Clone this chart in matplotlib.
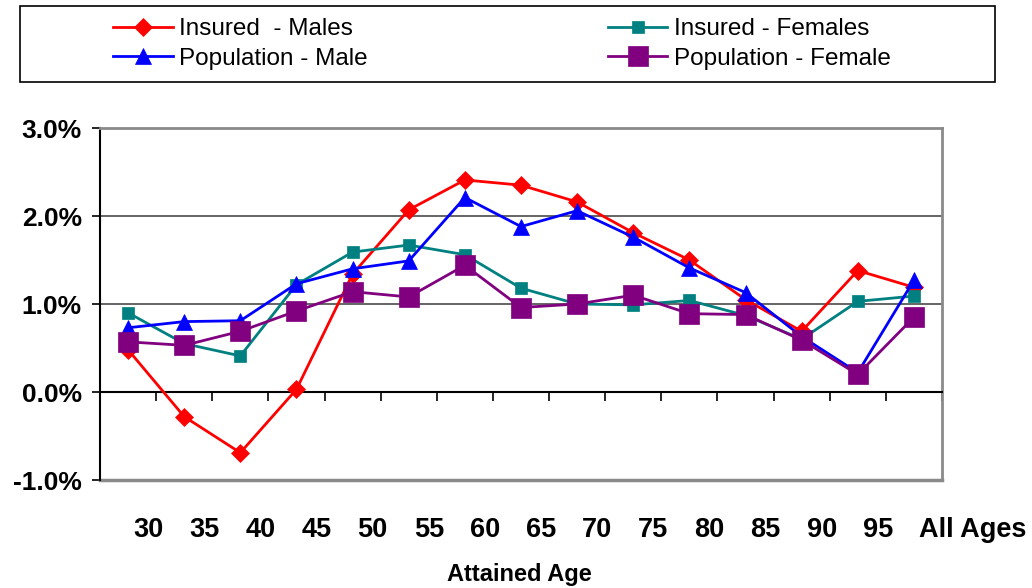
import matplotlib
matplotlib.use("Agg")
import matplotlib.pyplot as plt
from matplotlib.transforms import ScaledTranslation
from matplotlib.patches import Rectangle
from matplotlib.ticker import FixedLocator

plt.rcParams['font.family'] = ['Liberation Sans', 'DejaVu Sans']

ages = ['30', '35', '40', '45', '50', '55', '60', '65', '70', '75', '80', '85', '90', '95', 'All Ages']
insured_males = [0.48, -0.28, -0.69, 0.03, 1.34, 2.07, 2.41, 2.35, 2.16, 1.81, 1.50, 1.05, 0.69, 1.38, 1.19]
insured_females = [0.90, 0.55, 0.41, 1.22, 1.59, 1.67, 1.56, 1.18, 1.00, 0.99, 1.04, 0.87, 0.60, 1.03, 1.09]
population_male = [0.73, 0.80, 0.81, 1.23, 1.40, 1.49, 2.21, 1.88, 2.06, 1.76, 1.41, 1.13, 0.63, 0.22, 1.27]
population_female = [0.57, 0.53, 0.69, 0.92, 1.14, 1.08, 1.44, 0.96, 1.00, 1.10, 0.89, 0.88, 0.59, 0.20, 0.85]
y_ticks = [-1.0, 0.0, 1.0, 2.0, 3.0]

W, H = 1032, 588
fig = plt.figure(figsize=(W / 100, H / 100), dpi=100)
ax = fig.add_axes([100 / W, 1 - 480 / H, 842 / W, 352 / H])

x = list(range(len(ages)))
series = [
    (insured_males, 'Insured  - Males', '#FF0000', 'D', 9, 1),
    (insured_females, 'Insured - Females', '#008080', 's', 8.5, 2),
    (population_male, 'Population - Male', '#0000FF', '^', 11.5, 3),
    (population_female, 'Population - Female', '#800080', 's', 14.5, 4),
]
handles = []
for vals, lab, col, mk, ms, z in series:
    h, = ax.plot(x, vals, color=col, lw=2.0, marker=mk, markersize=ms,
                 markerfacecolor=col, markeredgecolor=col, markeredgewidth=0.5,
                 label=lab, zorder=3 + z, clip_on=False)
    handles.append(h)

ax.set_xlim(-0.5, len(ages) - 0.5)
ax.set_ylim(-1.0, 3.0)

# y axis
ax.set_yticks(y_ticks)
ax.set_yticklabels([f"{v:.1f}%" for v in y_ticks], fontsize=19, fontweight='bold')
ax.tick_params(axis='y', direction='out', length=6, width=1.2, pad=7, color='black')
ax.yaxis.grid(True, color='#4a4a4a', lw=1.2, zorder=1)
ax.set_axisbelow(True)

# x axis at zero with boundary ticks
ax.spines['bottom'].set_position(('data', 0))
ax.spines['bottom'].set_color('black')
ax.spines['bottom'].set_linewidth(1.5)
ax.spines['left'].set_color('black')
ax.spines['left'].set_linewidth(1.5)
for s in ['top', 'right']:
    ax.spines[s].set_color('#8a8a8a')
    ax.spines[s].set_linewidth(2)
ax.axhline(-1.0, color='#8a8a8a', lw=2.5, zorder=2, clip_on=False)

ax.xaxis.set_major_locator(FixedLocator([i - 0.5 for i in range(len(ages) + 1)]))
ax.xaxis.set_major_formatter(plt.NullFormatter())
ax.tick_params(axis='x', which='major', direction='out', length=6.5, width=1.2, color='black')
ax.set_xticks(x, ages, minor=True)
ax.tick_params(axis='x', which='minor', length=0, pad=90)
off = ScaledTranslation(5 / 100, 0, fig.dpi_scale_trans)
for lbl in ax.get_xticklabels(minor=True):
    lbl.set_fontsize(19.5)
    lbl.set_fontweight('bold')
    lbl.set_ha('left')
    lbl.set_transform(lbl.get_transform() + off)

fig.text(519 / W, 1 - 581.5 / H, 'Attained Age', ha='center', va='baseline',
         fontsize=17, fontweight='bold')

# legend (row 1: insured, row 2: population)
fig.patches.append(Rectangle((20 / W, 1 - 82 / H), 975 / W, 76 / H,
                             transform=fig.transFigure, fill=False,
                             edgecolor='black', lw=1.2))
leg_handles = [handles[0], handles[2], handles[1], handles[3]]
fig.legend(handles=leg_handles, loc='upper left', bbox_to_anchor=(113 / W, 1 - 18 / H),
           ncol=2, frameon=False, fontsize=17.5, handlelength=2.45,
           handletextpad=0.25, columnspacing=9.9, labelspacing=0.32,
           borderpad=0, borderaxespad=0, markerscale=1.0)

fig.savefig('out.png', dpi=100)
